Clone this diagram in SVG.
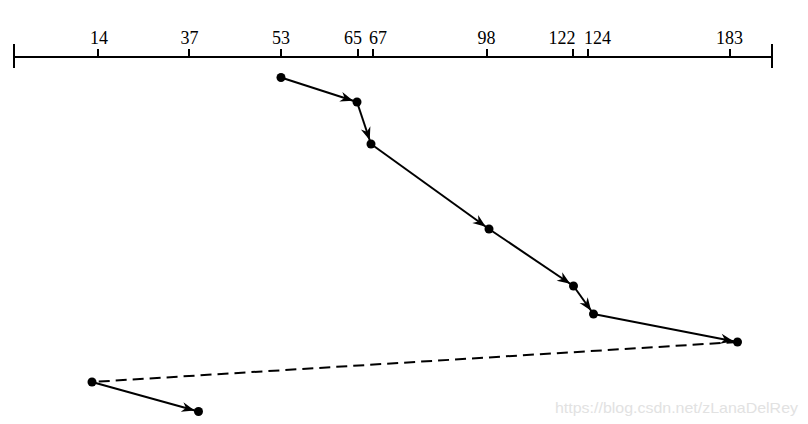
<svg xmlns="http://www.w3.org/2000/svg" width="808" height="424" viewBox="0 0 808 424">
<style>
.ax{stroke:#000;stroke-width:2;fill:none}
.lbl{font-family:"Liberation Serif","Times New Roman",serif;font-size:18px;fill:#000;text-anchor:middle}
.seg{stroke:#000;stroke-width:2;fill:none}
.dash{stroke:#000;stroke-width:2;fill:none;stroke-dasharray:11 6}
.dot{fill:#000}
.wm{font-family:"Liberation Sans",Arial,sans-serif;font-size:15px;fill:#e2e2e2}
</style>
<defs>
<marker id="arr" markerUnits="userSpaceOnUse" viewBox="-20 -6 20 12" markerWidth="20" markerHeight="12" refX="0" refY="0" orient="auto">
<path d="M-4,0 L-17,-5 L-13,0 L-17,5 Z" fill="#000"/>
</marker>
</defs>
<rect width="808" height="424" fill="#fff"/>
<g id="axis">
<line class="ax" x1="14" y1="57" x2="772" y2="57"/>
<line class="ax" x1="14" y1="44" x2="14" y2="68"/>
<line class="ax" x1="772" y1="44" x2="772" y2="68"/>
<line class="ax" x1="98" y1="49" x2="98" y2="57"/>
<line class="ax" x1="189" y1="49" x2="189" y2="57"/>
<line class="ax" x1="281" y1="49" x2="281" y2="57"/>
<line class="ax" x1="358" y1="49" x2="358" y2="57"/>
<line class="ax" x1="373" y1="49" x2="373" y2="57"/>
<line class="ax" x1="487" y1="49" x2="487" y2="57"/>
<line class="ax" x1="573" y1="49" x2="573" y2="57"/>
<line class="ax" x1="588" y1="49" x2="588" y2="57"/>
<line class="ax" x1="730" y1="49" x2="730" y2="57"/>
<text class="lbl" x="99" y="44">14</text>
<text class="lbl" x="189.5" y="44">37</text>
<text class="lbl" x="281" y="44">53</text>
<text class="lbl" x="353" y="44">65</text>
<text class="lbl" x="378" y="44">67</text>
<text class="lbl" x="486.5" y="44">98</text>
<text class="lbl" x="562" y="44">122</text>
<text class="lbl" x="597.5" y="44">124</text>
<text class="lbl" x="729.5" y="44">183</text>
</g>
<g id="connectors">
<line class="seg" x1="281" y1="77.5" x2="357" y2="102" marker-end="url(#arr)"/>
<line class="seg" x1="357" y1="102" x2="371" y2="144" marker-end="url(#arr)"/>
<line class="seg" x1="371" y1="144" x2="489" y2="229" marker-end="url(#arr)"/>
<line class="seg" x1="489" y1="229" x2="573.5" y2="286" marker-end="url(#arr)"/>
<line class="seg" x1="573.5" y1="286" x2="593.5" y2="314" marker-end="url(#arr)"/>
<line class="seg" x1="593.5" y1="314" x2="737.5" y2="342" marker-end="url(#arr)"/>
<line class="dash" x1="737.5" y1="342" x2="92" y2="382"/>
<line class="seg" x1="92" y1="382" x2="198.5" y2="411.5" marker-end="url(#arr)"/>
</g>
<g id="n53"><circle class="dot" cx="281" cy="77.5" r="4.5"/></g>
<g id="n65"><circle class="dot" cx="357" cy="102" r="4.5"/></g>
<g id="n67"><circle class="dot" cx="371" cy="144" r="4.5"/></g>
<g id="n98"><circle class="dot" cx="489" cy="229" r="4.5"/></g>
<g id="n122"><circle class="dot" cx="573.5" cy="286" r="4.5"/></g>
<g id="n124"><circle class="dot" cx="593.5" cy="314" r="4.5"/></g>
<g id="n183"><circle class="dot" cx="737.5" cy="342" r="4.5"/></g>
<g id="n14"><circle class="dot" cx="92" cy="382" r="4.5"/></g>
<g id="n37"><circle class="dot" cx="198.5" cy="411.5" r="4.5"/></g>
<text class="wm" x="555" y="413" textLength="243" lengthAdjust="spacingAndGlyphs">https://blog.csdn.net/zLanaDelRey</text>
</svg>
